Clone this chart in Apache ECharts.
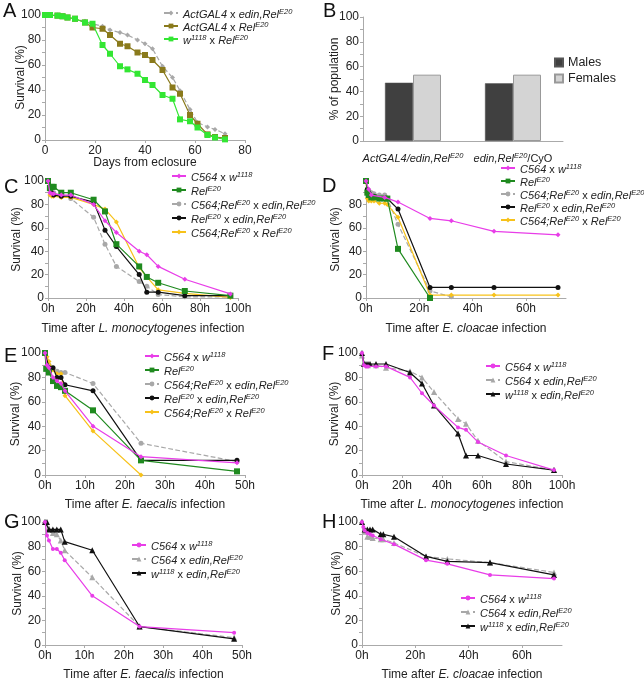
<!DOCTYPE html>
<html><head><meta charset="utf-8">
<script src="https://cdn.jsdelivr.net/npm/echarts@6/dist/echarts.min.js"></script>
<style>html,body{margin:0;padding:0;background:#fff}#c{width:644px;height:682px}</style>
</head><body><div id="c"></div>
<script>
// ---------- DATA ----------
// Panel A: days from eclosure
const A_actEdin = [[0,100],[2,100],[5,100],[7,99],[9,98],[12,97],[16,95],[19,93],[23,91],[26,88],[30,86],[33,84],[37,80],[40,77],[43,73],[47,59],[51,50],[54,39.5],[58,24.5],[61,14],[65,10.5],[68,8.5],[72,5]];
const A_actRel  = [[0,100],[2,100],[5,99.5],[7,99],[9,98],[12,97],[16,94],[19,90],[23,89],[26,84],[30,77],[33,75],[37,70],[40,68],[43,64],[47,56],[51,42],[54,37],[58,20],[61,13],[65,4.5],[68,2.4],[72,1.6]];
const A_wRel    = [[0,100],[2,100],[5,99.5],[7,99],[9,98],[12,97],[16,94],[19,93],[23,76],[26,69],[30,59],[33,56.5],[37,53],[40,48],[43,44],[47,36],[51,33],[54,16.5],[58,15],[61,10],[65,4],[68,2],[72,0.5]];
// Panel B
const B_categories = ['ActGAL4/edin,RelE20','edin,RelE20/CyO'];
const B_males   = [47, 46.5];
const B_females = [53.5, 53.5];
// Panel C: L. monocytogenes
const C_c564w  = [[0,100],[1,90],[2,89],[3,89],[7,88],[12,88],[24,80],[30,66],[36,56],[48,40],[52,37],[58,27],[72,16],[96,3.5]];
const C_rel    = [[0,100],[1,94],[2,95],[3,95],[7,90],[12,90],[24,84],[30,74],[36,46],[48,27],[52,18],[58,13],[72,6],[96,2]];
const C_c564ed = [[0,100],[1,92],[2,90],[3,90],[7,88],[12,85],[24,69],[30,46],[36,27],[48,14],[52,10],[58,3],[72,1],[96,1]];
const C_relEd  = [[0,100],[1,95],[2,90],[3,88],[7,87],[12,87],[24,82],[30,58],[36,44],[48,20],[52,5],[58,5],[72,2],[96,2]];
const C_c564rel= [[0,100],[1,88],[2,87],[3,87],[7,86],[12,86],[24,80],[30,76],[36,65],[48,26],[52,18],[58,7],[72,4],[96,0.5]];
// Panel D: E. cloacae
const D_c564w  = [[0,100],[1,93],[2,88],[7,86],[12,82],[24,68],[32,66],[48,57],[72,54]];
const D_rel    = [[0,100],[0.5,90],[1,88],[2,86],[3,86],[5,85],[7,85],[8,85],[12,42],[24,0]];
const D_c564ed = [[0,100],[1,92],[2,90],[3,89],[5,88],[7,88],[8,85],[12,63],[24,6],[32,1]];
const D_relEd  = [[0,100],[0.5,93],[1,90],[2,87],[3,87],[5,85],[7,85],[8,85],[12,76],[24,9],[32,9],[48,9],[72,9]];
const D_c564rel= [[0,100],[0.5,85],[1,83],[2,83],[3,83],[5,81],[7,81],[8,80],[12,69],[24,2.5],[32,2.5],[48,2.5],[72,2.5]];
// Panel E: E. faecalis
const E_c564w  = [[0,100],[0.5,90],[1,88],[2,80],[3,77],[4,75],[5,69],[12,40],[24,15],[48,10]];
const E_rel    = [[0,100],[0.3,87],[1,84],[2,77],[3,73],[4,72],[5,69],[12,53],[24,12],[48,3]];
const E_c564ed = [[0,100],[1,90],[2,87],[3,85],[4,84],[5,84],[12,75],[24,26],[48,11]];
const E_relEd  = [[0,100],[1,88],[2,88],[3,80],[4,80],[5,74],[12,69],[24,12],[48,12]];
const E_c564rel= [[0,100],[0.5,97],[1,93],[2,86],[3,83],[4,83],[5,65],[12,36],[24,0]];
// Panel F: L. monocytogenes
const F_c564w  = [[0,100],[1,90],[2,89],[3,89],[7,89],[12,89],[24,80],[30,67],[36,57],[48,39],[52,37],[58,27],[72,16],[96,4]];
const F_c564ed = [[0,98],[1,92],[3,90],[7,90],[12,88],[24,85],[30,80],[36,68],[48,46],[52,42],[58,28],[72,11],[96,4]];
const F_wEd    = [[0,100],[1,91],[2,91],[3,91],[4,91],[7,91],[12,91],[24,84],[30,75],[36,57],[48,34],[52,16],[58,16],[72,9],[96,4]];
// Panel G: E. faecalis
const G_c564w  = [[0,100],[0.5,89],[1,85],[2,78],[3,78],[4,75],[5,69],[12,40],[24,15],[48,10]];
const G_c564ed = [[0,100],[1,95],[2,91],[3,90],[4,85],[5,77],[12,55],[24,15],[48,6]];
const G_wEd    = [[0,100],[0.5,100],[1,94],[2,94],[3,94],[4,94],[5,84],[12,77],[24,15],[48,5]];
// Panel H: E. cloacae
const H_c564w  = [[0,100],[0.5,96],[1,93],[2,91],[3,90],[4,89],[7,86],[12,82],[24,69],[32,66],[48,57],[72,54]];
const H_c564ed = [[0,100],[1,92],[2,88],[3,88],[4,87],[7,86],[8,86],[12,83],[24,72],[32,70],[48,67],[72,59]];
const H_wEd    = [[0,100],[1,94],[2,94],[3,94],[4,94],[7,90],[8,90],[12,88],[24,72],[32,68],[48,67],[72,57]];

// ---------- STYLE ----------
const FONT = 'Liberation Sans, Arial, sans-serif';
const TXT = '#222';
const AX = '#aaa';
const COL = {mag:'#e83de8', green:'#1f8a1f', grey:'#a8a8a8', black:'#111', yellow:'#f7c21a', olive:'#8a7a1c', lime:'#33e633'};
const rich = {
  n:{fontFamily:FONT,fontSize:11,color:TXT,lineHeight:14,verticalAlign:'bottom'},
  i:{fontFamily:FONT,fontSize:11,color:TXT,fontStyle:'italic',lineHeight:14,verticalAlign:'bottom'},
  s:{fontFamily:FONT,fontSize:7.5,color:TXT,fontStyle:'italic',lineHeight:8,padding:[0,0,4,0],verticalAlign:'bottom'}
};
const LBL = {
  'actEdin':'{i|ActGAL4}{n| x }{i|edin,Rel}{s|E20}',
  'actRel':'{i|ActGAL4}{n| x }{i|Rel}{s|E20}',
  'wRel':'{i|w}{s|1118}{n| x }{i|Rel}{s|E20}',
  'c564w':'{i|C564}{n| x }{i|w}{s|1118}',
  'rel':'{i|Rel}{s|E20}',
  'c564ed':'{i|C564;Rel}{s|E20}{n| x }{i|edin,Rel}{s|E20}',
  'relEd':'{i|Rel}{s|E20}{n| x }{i|edin,Rel}{s|E20}',
  'c564rel':'{i|C564;Rel}{s|E20}{n| x }{i|Rel}{s|E20}',
  'c564ed2':'{i|C564}{n| x }{i|edin,Rel}{s|E20}',
  'wEd':'{i|w}{s|1118}{n| x }{i|edin,Rel}{s|E20}',
  'Males':'{m|Males}','Females':'{m|Females}'
};
const STY = {
  actEdin:{c:COL.grey,sym:'diamond',sz:5,dash:'dashed'},
  actRel:{c:COL.olive,sym:'rect',sz:6},
  wRel:{c:COL.lime,sym:'rect',sz:6},
  c564w:{c:COL.mag,sym:'diamond',sz:5},
  rel:{c:COL.green,sym:'rect',sz:6},
  c564ed:{c:COL.grey,sym:'circle',sz:5,dash:'dashed'},
  relEd:{c:COL.black,sym:'circle',sz:5},
  c564rel:{c:COL.yellow,sym:'diamond',sz:5},
  c564w2:{c:COL.mag,sym:'circle',sz:4},
  c564ed2:{c:COL.grey,sym:'triangle',sz:6,dash:'dashed'},
  wEd:{c:COL.black,sym:'triangle',sz:6}
};

const grids=[], xAxes=[], yAxes=[], series=[], legends=[], graphics=[];
const nameRich = {n:{fontFamily:FONT,fontSize:12,color:TXT},i:{fontFamily:FONT,fontSize:12,color:TXT,fontStyle:'italic'}};

function addPanel(p){
  const gi = grids.length;
  grids.push({left:p.l, top:p.t, width:p.w, height:p.h, containLabel:false});
  xAxes.push({
    gridIndex:gi, type:'value', min:0, max:p.xmax, interval:p.xint,
    axisLine:{lineStyle:{color:AX}}, axisTick:{show:true,length:3,lineStyle:{color:AX}},
    splitLine:{show:false},
    axisLabel:{fontFamily:FONT,fontSize:12,color:TXT,margin:5,showMaxLabel:p.showMax!==false,
      formatter: v => v + (p.unit||'')},
    name:p.xname, nameLocation:'middle', nameGap:p.xgap, nameMoveOverlap:false,
    nameTextStyle:{fontFamily:FONT,fontSize:12,color:TXT,verticalAlign:'top',rich:nameRich}
  });
  yAxes.push({
    gridIndex:gi, type:'value', min:0, max:100, interval:20,
    axisLine:{show:true,lineStyle:{color:AX}}, axisTick:{show:true,length:3,lineStyle:{color:AX}},
    minorTick:{show:true,splitNumber:2,length:3,lineStyle:{color:AX}},
    splitLine:{show:false},
    axisLabel:{fontFamily:FONT,fontSize:12,color:TXT,margin:4,
      formatter: v => (p.hide100 && v===100) ? '' : String(v)},
    name:p.yname, nameLocation:'middle', nameGap:p.ygap, nameMoveOverlap:false,
    nameTextStyle:{fontFamily:FONT,fontSize:12,color:TXT}
  });
  const names=[];
  p.series.forEach(s=>{
    const st = STY[s.k];
    const nm = p.id + '|' + s.lk;
    names.push(nm);
    series.push({
      type:'line', name:nm, xAxisIndex:gi, yAxisIndex:gi, data:s.d,
      symbol:st.sym, symbolSize:st.sz, showSymbol:true,
      lineStyle:{color:st.c,width:1.2,type:st.dash||'solid'},
      itemStyle:{color:st.c}, emphasis:{disabled:true}, animation:false, z:s.z||2
    });
  });
  legends.push({
    data:names, orient:'vertical', left:p.lgx, top:p.lgy, itemGap:p.lgGap===undefined?2:p.lgGap, padding:0,
    itemWidth:14, itemHeight:6, selectedMode:false,
    formatter: n => LBL[n.split('|')[1]],
    textStyle:{fontFamily:FONT,fontSize:11,color:TXT,rich:rich}
  });
  graphics.push({type:'text', left:p.letx, top:p.lety, style:{text:p.letter, font:'20px '+FONT, fill:'#111'}});
}

// Panel A
addPanel({id:'A',letter:'A',letx:3,lety:1,l:45,t:15,w:200,h:125,xmax:80,xint:20,unit:'',xgap:17,ygap:18,
  xname:'Days from eclosure',yname:'Survival (%)',
  lgx:163,lgy:8,lgGap:1,
  series:[{k:'actEdin',lk:'actEdin',d:A_actEdin,z:1},{k:'actRel',lk:'actRel',d:A_actRel,z:2},{k:'wRel',lk:'wRel',d:A_wRel,z:3}]});
// Panel C
addPanel({id:'C',letter:'C',letx:4,lety:177,l:48,t:181,w:190,h:117,xmax:100,xint:20,unit:'h',xgap:25,ygap:25,
  xname:'Time after {i|L. monocytogenes} infection',yname:'Survival (%)',
  lgx:171,lgy:171,
  series:[{k:'c564w',lk:'c564w',d:C_c564w,z:5},{k:'rel',lk:'rel',d:C_rel,z:4},{k:'c564ed',lk:'c564ed',d:C_c564ed,z:1},{k:'relEd',lk:'relEd',d:C_relEd,z:3},{k:'c564rel',lk:'c564rel',d:C_c564rel,z:2}]});
// Panel D
addPanel({id:'D',letter:'D',letx:322,lety:176,l:366,t:181,w:200,h:117,xmax:75,xint:20,unit:'h',showMax:false,hide100:true,xgap:25,ygap:24,
  xname:'Time after {i|E. cloacae} infection',yname:'Survival (%)',
  lgx:500,lgy:163,lgGap:1,
  series:[{k:'c564w',lk:'c564w',d:D_c564w,z:5},{k:'rel',lk:'rel',d:D_rel,z:4},{k:'c564ed',lk:'c564ed',d:D_c564ed,z:1},{k:'relEd',lk:'relEd',d:D_relEd,z:3},{k:'c564rel',lk:'c564rel',d:D_c564rel,z:2}]});
// Panel E
addPanel({id:'E',letter:'E',letx:4,lety:346,l:45,t:353,w:200,h:122,xmax:50,xint:10,unit:'h',xgap:24,ygap:23,
  xname:'Time after {i|E. faecalis} infection',yname:'Survival (%)',
  lgx:144,lgy:351,
  series:[{k:'c564w',lk:'c564w',d:E_c564w,z:5},{k:'rel',lk:'rel',d:E_rel,z:4},{k:'c564ed',lk:'c564ed',d:E_c564ed,z:1},{k:'relEd',lk:'relEd',d:E_relEd,z:3},{k:'c564rel',lk:'c564rel',d:E_c564rel,z:2}]});
// Panel F
addPanel({id:'F',letter:'F',letx:322,lety:344,l:362,t:353,w:200,h:122,xmax:100,xint:20,unit:'h',xgap:24,ygap:21,
  xname:'Time after {i|L. monocytogenes} infection',yname:'Survival (%)',
  lgx:485,lgy:361,
  series:[{k:'c564w2',lk:'c564w',d:F_c564w,z:3},{k:'c564ed2',lk:'c564ed2',d:F_c564ed,z:1},{k:'wEd',lk:'wEd',d:F_wEd,z:2}]});
// Panel G
addPanel({id:'G',letter:'G',letx:4,lety:512,l:45,t:522,w:197,h:124,xmax:50,xint:10,unit:'h',xgap:24,ygap:21,
  xname:'Time after {i|E. faecalis} infection',yname:'Survival (%)',
  lgx:131,lgy:540,
  series:[{k:'c564w2',lk:'c564w',d:G_c564w,z:3},{k:'c564ed2',lk:'c564ed2',d:G_c564ed,z:1},{k:'wEd',lk:'wEd',d:G_wEd,z:2}]});
// Panel H
addPanel({id:'H',letter:'H',letx:322,lety:512,l:362,t:522,w:200,h:123,xmax:75,xint:20,unit:'h',showMax:false,xgap:24,ygap:19,
  xname:'Time after {i|E. cloacae} infection',yname:'Survival (%)',
  lgx:460,lgy:593,
  series:[{k:'c564w2',lk:'c564w',d:H_c564w,z:3},{k:'c564ed2',lk:'c564ed2',d:H_c564ed,z:1},{k:'wEd',lk:'wEd',d:H_wEd,z:2}]});

// Panel B (bars)
{
  const gi = grids.length;
  grids.push({left:363, top:17, width:200, height:124});
  xAxes.push({gridIndex:gi, type:'category', data:B_categories,
    axisLine:{lineStyle:{color:AX}}, axisTick:{show:false},
    axisLabel:{margin:9, interval:0, formatter: v => v==='ActGAL4/edin,RelE20' ? '{i|ActGAL4/edin,Rel}{s|E20}' : '{i|edin,Rel}{s|E20}{n|/CyO}', rich:rich}
  });
  yAxes.push({gridIndex:gi, type:'value', min:0, max:100, interval:20,
    axisLine:{show:true,lineStyle:{color:AX}}, axisTick:{show:true,length:3,lineStyle:{color:AX}},
    minorTick:{show:true,splitNumber:2,length:3,lineStyle:{color:AX}}, splitLine:{show:false},
    axisLabel:{fontFamily:FONT,fontSize:12,color:TXT,margin:4},
    name:'% of population', nameLocation:'middle', nameGap:22, nameMoveOverlap:false, nameTextStyle:{fontFamily:FONT,fontSize:12,color:TXT}});
  series.push({type:'bar', name:'B|Males', xAxisIndex:gi, yAxisIndex:gi, data:B_males, barWidth:28, barGap:'0%',
    itemStyle:{color:'#404040',borderColor:'#555',borderWidth:0.5}, animation:false, emphasis:{disabled:true}});
  series.push({type:'bar', name:'B|Females', xAxisIndex:gi, yAxisIndex:gi, data:B_females, barWidth:28, barGap:'0%',
    itemStyle:{color:'#d4d4d4',borderColor:'#999',borderWidth:1}, animation:false, emphasis:{disabled:true}});
  legends.push({data:['B|Males','B|Females'], orient:'vertical', left:554, top:56, itemGap:3, itemWidth:8, itemHeight:8, padding:0,
    selectedMode:false, icon:'rect', formatter:n=>LBL[n.split('|')[1]],
    textStyle:{fontFamily:FONT,fontSize:12,color:TXT,rich:{m:{fontFamily:FONT,fontSize:12.5,color:TXT}}}});
  graphics.push({type:'text', left:323, top:1, style:{text:'B', font:'20px '+FONT, fill:'#111'}});
}

const chart = echarts.init(document.getElementById('c'), null, {renderer:'canvas'});
chart.setOption({
  animation:false, backgroundColor:'#fff',
  grid:grids, xAxis:xAxes, yAxis:yAxes, series:series, legend:legends, graphic:graphics
});
</script></body></html>
